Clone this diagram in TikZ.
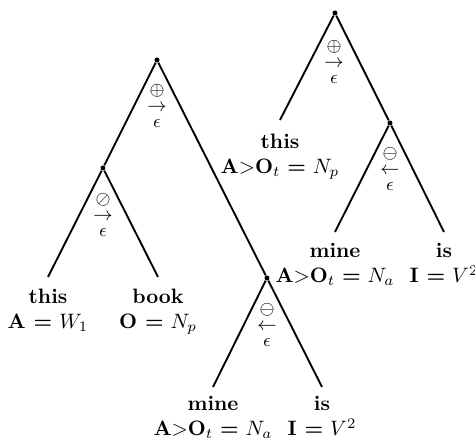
\documentclass[tikz,border=0pt]{standalone}
\begin{document}
\begin{tikzpicture}[x=0.48pt,y=-0.48pt,
  edge/.style={line width=0.9pt},
  vert/.style={circle,fill,inner sep=0pt,minimum size=2.4pt},
  lbl/.style={align=center,anchor=north,inner sep=0pt},
  opr/.style={inner sep=0pt,align=center,font={\small\baselineskip=7.6pt\lineskiplimit=-20pt\lineskip=0pt}}]
\useasboundingbox (0,0) rectangle (475,438);
% left tree
\node[vert] (lroot) at (157,60) {};
\node[vert] (lmid) at (103,168) {};
\node[vert] (lr) at (267,278) {};
\coordinate (lthis) at (48,277);
\coordinate (lbook) at (158,277);
\coordinate (lmine) at (213,387);
\coordinate (lis) at (322,387);
\draw[edge] (lroot) -- (lmid);
\draw[edge] (lroot) -- (lr);
\draw[edge] (lmid) -- (lthis);
\draw[edge] (lmid) -- (lbook);
\draw[edge] (lr) -- (lmine);
\draw[edge] (lr) -- (lis);
% right tree
\node[vert] (rroot) at (335,13) {};
\node[vert] (rr) at (390,123) {};
\coordinate (rthis) at (280,120);
\coordinate (rmine) at (335,232);
\coordinate (ris) at (444,232);
\draw[edge] (rroot) -- (rthis);
\draw[edge] (rroot) -- (rr);
\draw[edge] (rr) -- (rmine);
\draw[edge] (rr) -- (ris);
% operators
\node[opr] (o1) at (157,106) {$\oplus$\\$\rightarrow$\\$\epsilon$};
\node[opr] (o2) at (103,215) {$\oslash$\\$\rightarrow$\\$\epsilon$};
\node[opr] (o3) at (267,325) {$\ominus$\\$\leftarrow$\\$\epsilon$};
\node[opr] (o4) at (334,62) {$\oplus$\\$\rightarrow$\\$\epsilon$};
\node[opr] (o5) at (390,169) {$\ominus$\\$\leftarrow$\\$\epsilon$};
% labels
\node[lbl] (t1) at (48,289) {\textbf{this}\\\textbf{A =} $W_1$};
\node[lbl] (t2) at (158,289) {\textbf{book}\\\textbf{O =} $N_p$};
\node[lbl] (t3) at (213,396) {\textbf{mine}\\\textbf{A}$>$\textbf{O}$_t$ \textbf{=} $N_a$};
\node[lbl] (t4) at (322,396) {\textbf{is}\\\textbf{I =} $V^2$};
\node[lbl] (t5) at (280,134) {\textbf{this}\\\textbf{A}$>$\textbf{O}$_t$ \textbf{=} $N_p$};
\node[lbl] (t6) at (335,243) {\textbf{mine}\\\textbf{A}$>$\textbf{O}$_t$ \textbf{=} $N_a$};
\node[lbl] (t7) at (444,243) {\textbf{is}\\\textbf{I =} $V^2$};
\end{tikzpicture}
\end{document}
